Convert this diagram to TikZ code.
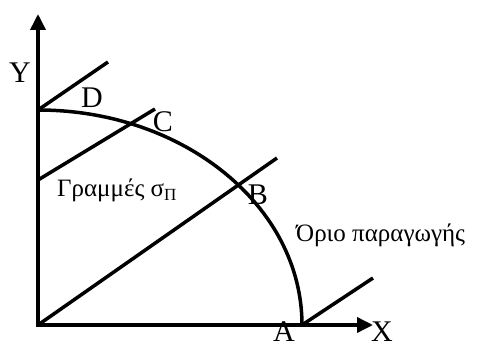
\documentclass[tikz,border=0pt]{standalone}
\usepackage{fontspec}
\setmainfont{Liberation Serif}
\usetikzlibrary{arrows.meta}
\begin{document}
\begin{tikzpicture}[x=1pt,y=1pt,
  axes/.style={line width=3.6pt, line join=miter, {Triangle[length=16pt,width=15pt]}-{Triangle[length=16pt,width=15pt]}},
  heavy/.style={line width=3.5pt},
  letter/.style={font=\fontsize{30}{30}\selectfont, inner sep=0pt, anchor=base},
  greek/.style={font=\fontsize{25}{25}\selectfont, inner sep=0pt, anchor=base west}]
\clip (0,0) rectangle (480,346);
\fill[white] (0,0) rectangle (480,346);
% key points
\coordinate (O) at (38,21);
\coordinate (Ytip) at (38,332);
\coordinate (Xtip) at (373,21);
\coordinate (Dp) at (38,236);
\coordinate (Ap) at (302,21);
\coordinate (Dend) at (108,284);
\coordinate (Cstart) at (38,166);
\coordinate (Cend) at (155,237);
\coordinate (Bend) at (277,188);
\coordinate (Aend) at (373,68);
% axes
\draw[axes] (Ytip) -- (O) -- (Xtip);
% production possibility frontier
\draw[heavy] (Dp) arc[start angle=90,end angle=0,x radius=264,y radius=215];
% lines
\draw[heavy] (Dp) -- (Dend);
\draw[heavy] (Cstart) -- (Cend);
\draw[heavy] (O) -- (Bend);
\draw[heavy] (Ap) -- (Aend);
% labels
\node[letter] (labY) at (20,263) {Y};
\node[letter] (labD) at (92,238) {D};
\node[letter] (labC) at (163,214) {C};
\node[letter] (labB) at (258,141) {B};
\node[letter] (labA) at (284,5) {A};
\node[letter] (labX) at (382,5) {X};
\node[greek] (frontier) at (296,104) {Όριο παραγωγής};
\node[greek] (lines) at (57,149) {Γραμμές σ{\fontsize{17}{17}\selectfont\raisebox{-4pt}{Π}}};
\end{tikzpicture}
\end{document}
